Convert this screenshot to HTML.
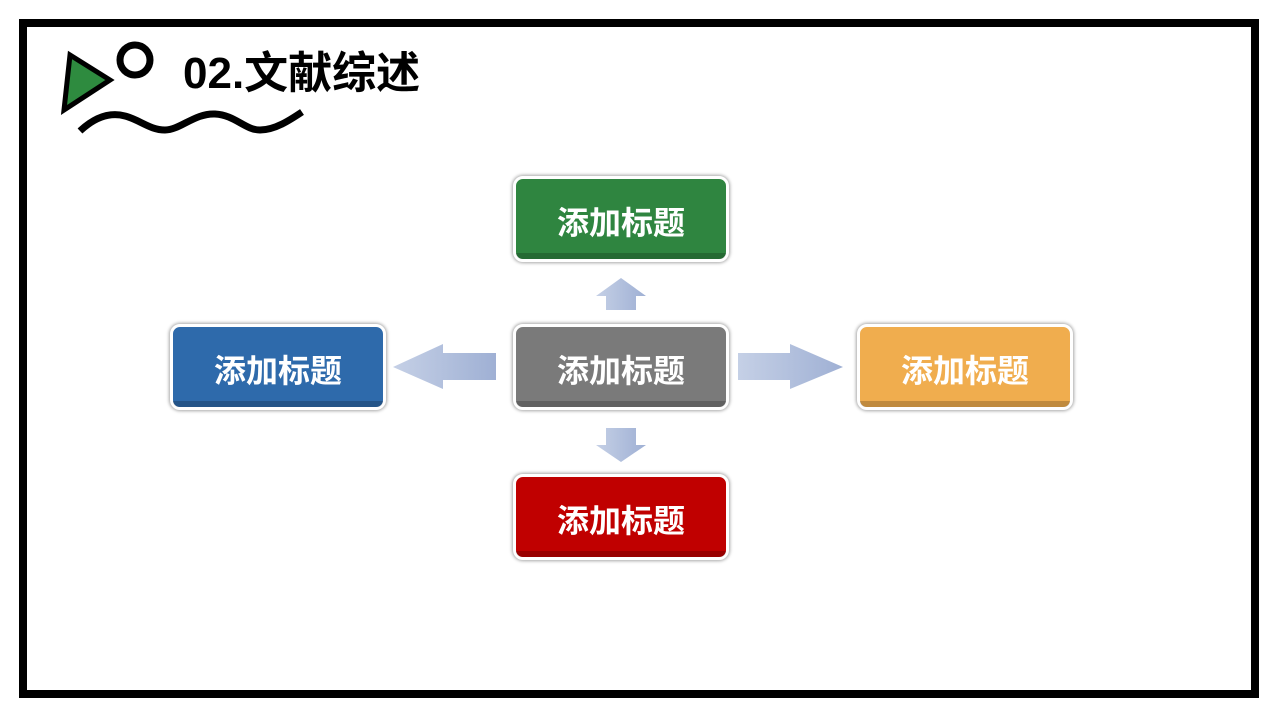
<!DOCTYPE html>
<html><head><meta charset="utf-8"><style>
body{margin:0;width:1280px;height:720px;background:#fff;position:relative;overflow:hidden;font-family:"Liberation Sans","Noto Sans CJK SC",sans-serif}
.frame{position:absolute;left:19px;top:19px;width:1224px;height:663px;border:8px solid #000}
.box{position:absolute;width:216px;height:86px;border:3px solid #fff;border-radius:10px;box-shadow:0 0 3px 1px rgba(0,0,0,.35);color:#fff;font-weight:bold;font-size:32px;display:flex;align-items:center;justify-content:center;box-sizing:border-box;padding-top:4px}
.box::after{content:"";position:absolute;left:0;right:0;bottom:0;height:6px;border-radius:0 0 7px 7px;background:rgba(0,0,0,.2)}
h1{position:absolute;left:183px;top:46px;margin:0;font-size:44px;font-weight:bold;line-height:56px}
</style></head><body>
<div class="frame"></div>
<svg width="1280" height="720" style="position:absolute;left:0;top:0">
<defs><linearGradient id="g" x1="0" y1="0" x2="1" y2="0"><stop offset="0" stop-color="#c5d0e6"/><stop offset="1" stop-color="#9fb0d4"/></linearGradient></defs>
<polygon points="70,55 110,80 64,110" fill="#2e8b3f" stroke="#000" stroke-width="5" stroke-linejoin="miter"/>
<circle cx="135" cy="60" r="15" fill="none" stroke="#000" stroke-width="7"/>
<path d="M80,131 C95,117 110,112 125,116 C140,120 150,130 165,130 C180,130 195,113 215,114 C235,115 245,130 260,130 C275,130 290,120 302,112" fill="none" stroke="#000" stroke-width="7"/>
<polygon points="606,310 636,310 636,296 646,296 621,278 596,296 606,296" fill="url(#g)"/>
<polygon points="606,428 636,428 636,445 646,445 621,462 596,445 606,445" fill="url(#g)"/>
<polygon points="496,353 496,380 443,380 443,389 393,367 443,344 443,353" fill="url(#g)"/>
<polygon points="738,353 790,353 790,344 843,367 790,389 790,380 738,380" fill="url(#g)"/>
</svg>
<h1>02.文献综述</h1>
<div class="box" style="left:513px;top:176px;background:#2f8540">添加标题</div>
<div class="box" style="left:513px;top:324px;background:#7a7a7a">添加标题</div>
<div class="box" style="left:170px;top:324px;background:#2e6aab">添加标题</div>
<div class="box" style="left:857px;top:324px;background:#f0ad4e">添加标题</div>
<div class="box" style="left:513px;top:474px;background:#c00000">添加标题</div>
</body></html>
